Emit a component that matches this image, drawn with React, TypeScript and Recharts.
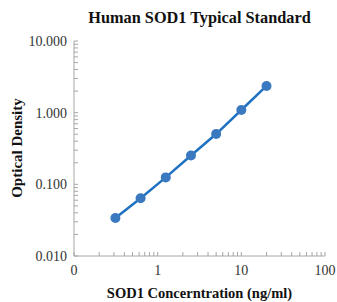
import React from "react";
import { LineChart, Line, XAxis, YAxis } from "recharts";

const concentrations = [0.3125, 0.625, 1.25, 2.5, 5, 10, 20];
const odValues = [0.034, 0.064, 0.125, 0.252, 0.503, 1.09, 2.36];

const xMajorTicks = [0.1, 1, 10, 100];
const xTickLabels = ["0", "1", "10", "100"];
const yMajorTicks = [0.01, 0.1, 1, 10];
const yTickLabels = ["0.010", "0.100", "1.000", "10.000"];
const minorMultipliers = [2, 3, 4, 5, 6, 7, 8, 9];

const title = "Human SOD1 Typical Standard";
const xTitle = "SOD1 Concerntration (ng/ml)";
const yTitle = "Optical Density";

const data = concentrations.map((c, i) => ({ x: c, y: odValues[i] }));

const buildTicks = (majors: number[]) => {
  const out: number[] = [];
  majors.forEach((m, i) => {
    out.push(m);
    if (i < majors.length - 1) minorMultipliers.forEach((k) => out.push(+(m * k).toPrecision(6)));
  });
  return out;
};
const xTicks = buildTicks(xMajorTicks);
const yTicks = buildTicks(yMajorTicks);

const SERIF = "'Liberation Serif', 'Times New Roman', serif";
const AXIS_COLOR = "#a6a6a6";
const TEXT_COLOR = "#333333";

const labelFor = (v: number, majors: number[], labels: string[]) => {
  const idx = majors.findIndex((m) => Math.abs(m - v) / m < 1e-6);
  return idx >= 0 ? labels[idx] : null;
};

const XTick = (props: any) => {
  const { x, y, payload } = props;
  const lab = labelFor(payload.value, xMajorTicks, xTickLabels);
  return (
    <g>
      <line x1={x} y1={y} x2={x} y2={y - 4} stroke={AXIS_COLOR} strokeWidth={1} />
      {lab !== null && (
        <text x={x} y={y + 19} textAnchor="middle" fontFamily={SERIF} fontSize={14} fill={TEXT_COLOR}>
          {lab}
        </text>
      )}
    </g>
  );
};

const YTick = (props: any) => {
  const { x, y, payload } = props;
  const lab = labelFor(payload.value, yMajorTicks, yTickLabels);
  return (
    <g>
      <line x1={x} y1={y} x2={x + 4} y2={y} stroke={AXIS_COLOR} strokeWidth={1} />
      {lab !== null && (
        <text x={x - 7} y={y + 5} textAnchor="end" fontFamily={SERIF} fontSize={14} fill={TEXT_COLOR}>
          {lab}
        </text>
      )}
    </g>
  );
};

export default function App() {
  return (
    <div style={{ position: "absolute", left: 0, top: 0, width: 337, height: 302, background: "#fff" }}>
      <div
        style={{
          position: "absolute",
          left: 74,
          width: 251,
          top: 8,
          textAlign: "center",
          fontFamily: SERIF,
          fontWeight: "bold",
          fontSize: 16.3,
          color: "#111",
          whiteSpace: "nowrap",
        }}
      >
        {title}
      </div>
      <div
        style={{
          position: "absolute",
          left: 74,
          width: 251,
          top: 285,
          textAlign: "center",
          fontFamily: SERIF,
          fontWeight: "bold",
          fontSize: 14.5,
          color: "#111",
          whiteSpace: "nowrap",
        }}
      >
        {xTitle}
      </div>
      <div
        style={{
          position: "absolute",
          left: 17,
          top: 148,
          transform: "translate(-50%, -50%) rotate(-90deg)",
          fontFamily: SERIF,
          fontWeight: "bold",
          fontSize: 15,
          color: "#111",
          whiteSpace: "nowrap",
        }}
      >
        {yTitle}
      </div>
      <div style={{ position: "absolute", left: 0, top: 0 }}>
        <LineChart width={337} height={302} data={data} margin={{ top: 41, right: 12, bottom: 0, left: 14 }}>
          <XAxis
            dataKey="x"
            type="number"
            scale="log"
            domain={[0.1, 100]}
            ticks={xTicks}
            interval={0}
            tickSize={0}
            tickMargin={0}
            height={46}
            stroke={AXIS_COLOR}
            tick={<XTick />}
            allowDataOverflow
          />
          <YAxis
            dataKey="y"
            type="number"
            scale="log"
            domain={[0.01, 10]}
            ticks={yTicks}
            interval={0}
            tickSize={0}
            tickMargin={0}
            width={60}
            stroke={AXIS_COLOR}
            tick={<YTick />}
            allowDataOverflow
          />
          <Line
            type="linear"
            dataKey="y"
            stroke="#1f72c2"
            strokeWidth={2.5}
            dot={{ r: 5, fill: "#3a78c0", stroke: "#3a78c0", strokeWidth: 0 }}
            isAnimationActive={false}
          />
        </LineChart>
      </div>
    </div>
  );
}
